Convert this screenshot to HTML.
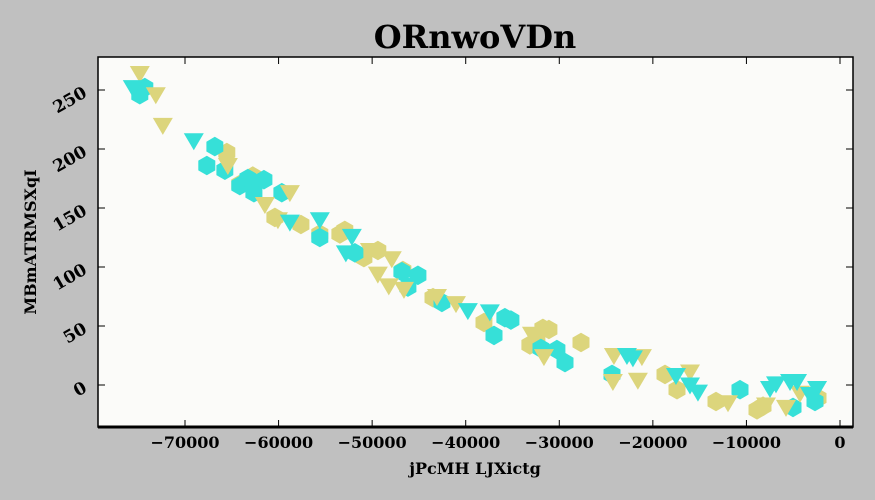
<!DOCTYPE html>
<html><head><meta charset="utf-8"><style>
body{margin:0;background:#c0c0c0;}
svg{display:block;font-family:"DejaVu Serif","Liberation Serif",serif;}
</style></head><body>
<svg id="chart" width="875" height="500">
<rect width="875" height="500" fill="#c0c0c0"/>
<text x="475" y="48" text-anchor="middle" font-size="32" font-weight="bold" fill="#000">ORnwoVDn</text>
<rect x="98" y="57" width="755" height="370" fill="#fbfbf9"/>
<g id="marks"></g>
<rect x="98" y="57" width="755" height="370" fill="none" stroke="#000" stroke-width="1.5"/>
<line x1="98" y1="427" x2="853" y2="427" stroke="#000" stroke-width="3"/>
<g id="axes"></g>
<text x="475" y="474" text-anchor="middle" font-size="16" font-weight="bold">jPcMH LJXictg</text>
<text transform="translate(36,242) rotate(-90)" text-anchor="middle" font-size="16" font-weight="bold">MBmATRMSXqI</text>
</svg>
<script>
const xTicks=[-70000,-60000,-50000,-40000,-30000,-20000,-10000,0];
const xTickLabels=["\u221270000","\u221260000","\u221250000","\u221240000","\u221230000","\u221220000","\u221210000","0"];
const yTicks=[0,50,100,150,200,250];
const yTickLabels=["0","50","100","150","200","250"];
const cyanHexX=[-74830,-74300,-67670,-66810,-65740,-64140,-63280,-62640,-61570,-59650,-55590,-51840,-46820,-46180,-45110,-42540,-36980,-35810,-35170,-31960,-30250,-29390,-24370,-10690,-5020,-2670];
const cyanHexY=[246,252,186,202,182,169,175,163,174,163,125,112,96,83,93,70,42,57,55,31,30,19,9,-4,-19,-14];
const cyanTriX=[-75580,-69060,-58790,-55590,-52810,-52170,-39770,-37420,-22770,-22130,-17530,-16030,-15180,-7480,-6840,-5340,-4590,-3200,-2450];
const cyanTriY=[252,207,138,140,112,126,63,62,25,23,8,0,-6,-3,1,3,3,-8,-3];
const yellowHexX=[-65530,-62750,-64140,-60390,-57610,-55590,-53450,-52920,-50880,-49390,-46710,-43500,-38050,-33140,-32390,-31750,-31110,-27680,-18700,-17420,-13250,-8870,-8230,-2350];
const yellowHexY=[197,177,170,142,136,128,128,131,108,114,97,74,53,34,38,48,47,36,9,-4,-14,-21,-18,-11];
const yellowTriX=[-74830,-73120,-72370,-65420,-61460,-60070,-58790,-50240,-49390,-47900,-48220,-46600,-43070,-41040,-32920,-31640,-24160,-24270,-21600,-21170,-16030,-11970,-7910,-5770,-4270];
const yellowTriY=[264,246,220,186,153,140,163,114,94,107,84,81,75,69,43,24,25,3,4,24,11,-15,-17,-19,-7];

const NS="http://www.w3.org/2000/svg";
function sx(v){return 840+v*(655/70000);}
function sy(v){return 385-v*(295/250);}
const marks=document.getElementById('marks'), axes=document.getElementById('axes');
function hex(cx,cy,r){let p=[];for(let i=0;i<6;i++){const a=Math.PI/3*i+Math.PI/6;p.push((cx+r*Math.cos(a)).toFixed(1)+","+(cy+r*Math.sin(a)).toFixed(1));}return p.join(" ");}
function tri(cx,cy,r){return (cx-r)+","+(cy-r*0.75)+" "+(cx+r)+","+(cy-r*0.75)+" "+cx+","+(cy+r*0.95);}
function draw(xs,ys,shape,color,name){
  for(let i=0;i<xs.length;i++){
    const el=document.createElementNS(NS,'polygon');
    const cx=sx(xs[i]),cy=sy(ys[i]);
    el.setAttribute('points',shape==='hex'?hex(cx,cy,9.8):tri(cx,cy,10));
    el.setAttribute('fill',color);
    
    
    marks.appendChild(el);
  }
}
draw(yellowHexX,yellowHexY,'hex','#dcd57c','yellow-hex-point');
draw(cyanHexX,cyanHexY,'hex','#36e0d8','cyan-hex-point');
draw(yellowTriX,yellowTriY,'tri','#dcd57c','yellow-triangle-point');
draw(cyanTriX,cyanTriY,'tri','#36e0d8','cyan-triangle-point');
xTicks.forEach((t,i)=>{
  const x=sx(t);
  const l=document.createElementNS(NS,'line');
  l.setAttribute('x1',x);l.setAttribute('x2',x);l.setAttribute('y1',427);l.setAttribute('y2',420);
  l.setAttribute('stroke','#000');
  
  
  axes.appendChild(l);
  const l2=document.createElementNS(NS,'line');
  l2.setAttribute('x1',x);l2.setAttribute('x2',x);l2.setAttribute('y1',57);l2.setAttribute('y2',64);
  l2.setAttribute('stroke','#000');
  
  
  axes.appendChild(l2);
  const tx=document.createElementNS(NS,'text');
  tx.setAttribute('x',x);tx.setAttribute('y',448);tx.setAttribute('text-anchor','middle');
  tx.setAttribute('font-size','16');tx.setAttribute('font-weight','bold');
  tx.textContent=xTickLabels[i];
  
  
  axes.appendChild(tx);
});
yTicks.forEach((t,i)=>{
  const y=sy(t);
  const l=document.createElementNS(NS,'line');
  l.setAttribute('x1',98);l.setAttribute('x2',105);l.setAttribute('y1',y);l.setAttribute('y2',y);
  l.setAttribute('stroke','#000');
  
  
  axes.appendChild(l);
  const l2=document.createElementNS(NS,'line');
  l2.setAttribute('x1',846);l2.setAttribute('x2',853);l2.setAttribute('y1',y);l2.setAttribute('y2',y);
  l2.setAttribute('stroke','#000');
  
  
  axes.appendChild(l2);
  const tx=document.createElementNS(NS,'text');
  tx.setAttribute('transform','translate(88,'+(y+6)+') rotate(-30)');
  tx.setAttribute('text-anchor','end');
  tx.setAttribute('font-size','17');tx.setAttribute('font-weight','bold');
  tx.textContent=yTickLabels[i];
  
  
  axes.appendChild(tx);
});
</script>
</body></html>
